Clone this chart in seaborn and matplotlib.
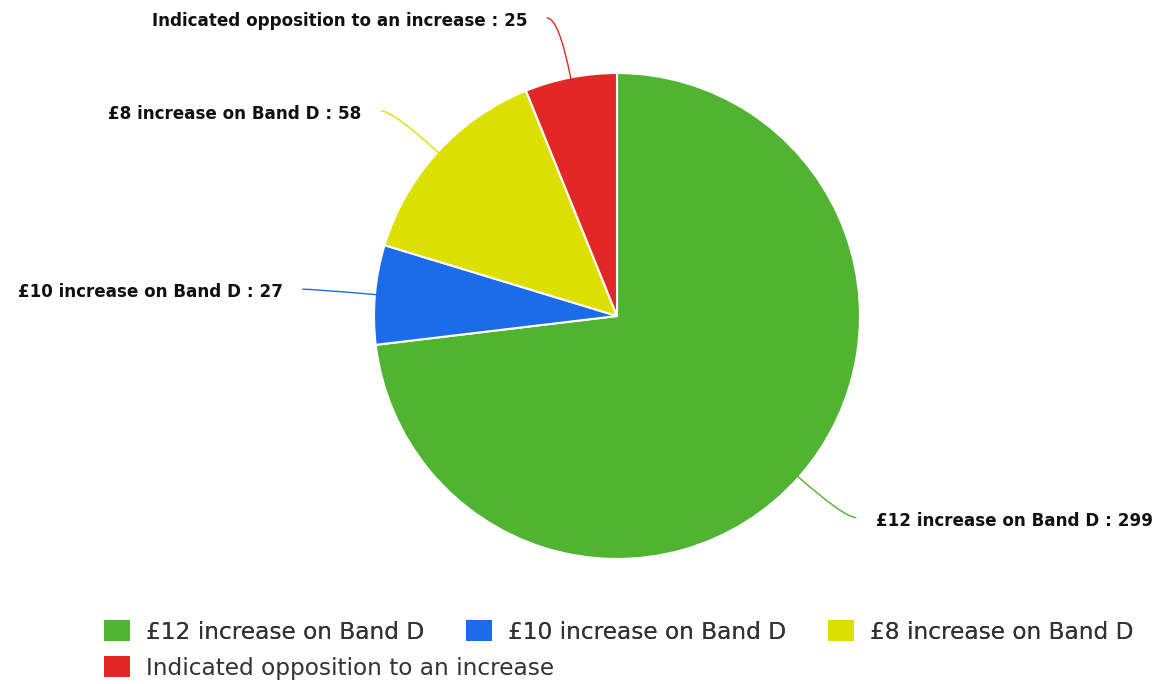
import numpy as np
import matplotlib
matplotlib.use("Agg")
import matplotlib.pyplot as plt
import seaborn as sns
from matplotlib.patches import Patch, PathPatch
from matplotlib.path import Path

# данные опроса
categories = ["£12 increase on Band D", "£10 increase on Band D",
              "£8 increase on Band D", "Indicated opposition to an increase"]
votes = [299, 27, 58, 25]
colors = ["#50B432", "#1B6BEB", "#DDDF00", "#E32626"]

sns.set_theme(style="white")
plt.rcParams["font.family"] = ["DejaVu Sans"]

fig = plt.figure(figsize=(11.67, 6.84), dpi=100)
# ось с центром пирога ~ (617, 316) px, радиус 243 px
half = 300
ax = fig.add_axes([(617 - half) / 1167, (684 - 316 - half) / 684,
                   2 * half / 1167, 2 * half / 684])

wedges, _ = ax.pie(votes, colors=colors, startangle=90, counterclock=False,
                   radius=1.0, wedgeprops=dict(edgecolor="white", linewidth=1.5))
lim = half / 243
ax.set_xlim(-lim, lim)
ax.set_ylim(-lim, lim)
ax.set_aspect("equal")
ax.axis("off")

# подписи с изогнутыми выносками
for w, name, v, c in zip(wedges, categories, votes, colors):
    ang = np.deg2rad((w.theta1 + w.theta2) / 2)
    x0, y0 = np.cos(ang), np.sin(ang)
    x1, y1 = 1.25 * x0, 1.25 * y0
    side = 1 if x0 > 0 else -1
    x2 = x1 + side * 0.05
    path = Path([(x0 * 0.99, y0 * 0.99), (x1, y1), (x2, y1)],
                [Path.MOVETO, Path.CURVE3, Path.CURVE3])
    ax.add_patch(PathPatch(path, facecolor="none", edgecolor=c, lw=1.0,
                           clip_on=False))
    ax.text(x2 + side * 0.08, y1 - 0.012, f"{name} : {v}",
            ha="left" if side > 0 else "right", va="center",
            fontsize=12.1, fontweight="bold", color="#111111")

# легенда в стиле Highcharts: две строки
handles = [Patch(facecolor=c, edgecolor="none") for c in colors]
leg_kw = dict(frameon=False, fontsize=16.75, handlelength=1.11, handleheight=0.95,
              handletextpad=0.69, labelcolor="#333333", borderaxespad=0,
              borderpad=0)
leg1 = fig.legend(handles[:3], categories[:3], ncol=3, loc="center left",
                  bbox_to_anchor=(104 / 1167, 1 - 632 / 684), columnspacing=1.8,
                  **leg_kw)
fig.add_artist(leg1)
fig.legend(handles[3:], categories[3:], ncol=1, loc="center left",
           bbox_to_anchor=(104 / 1167, 1 - 668 / 684), **leg_kw)

fig.savefig("out.png", dpi=100, facecolor="white")
plt.close(fig)
